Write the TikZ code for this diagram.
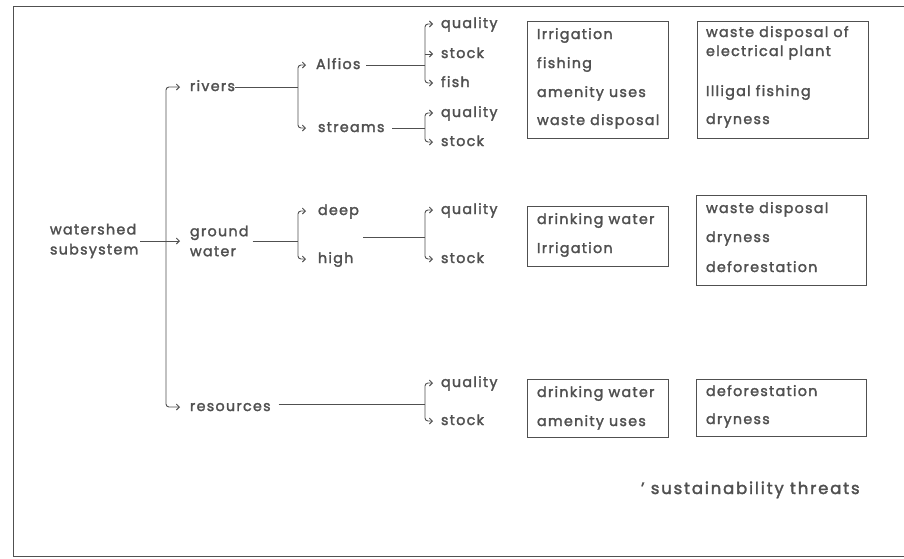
\documentclass[tikz,border=0pt]{standalone}
\usepackage{fontspec}
\setmainfont{Poppins}[LetterSpace=9, FakeBold=2]
\usetikzlibrary{arrows.meta}
\definecolor{ink}{HTML}{505050}
\begin{document}
\begin{tikzpicture}[x=1pt,y=-1pt,
  every node/.style={font=\fontsize{14.3}{20}\selectfont, text=ink},
  lbl/.style={anchor=west, inner xsep=0pt, inner ysep=0pt, outer sep=0pt, text height=8pt, text depth=0pt},
  mlbl/.style={anchor=west, inner xsep=0pt, inner ysep=0pt, outer sep=0pt, align=left},
  ln/.style={draw=ink, line width=0.9pt},
  tip/.style={-{Straight Barb[length=3pt,width=6pt]}},
  br/.style={ln, rounded corners=3pt, {Straight Barb[length=3pt,width=6pt]}-{Straight Barb[length=3pt,width=6pt]}},
  box/.style={draw=ink, line width=1pt, inner sep=0pt, anchor=north west}]
\path[use as bounding box] (0,0) rectangle (904,558);
% frame
\coordinate (fTL) at (13,6);
\coordinate (fTR) at (904,6);
\coordinate (fBL) at (13,556);
\coordinate (fBR) at (904,556);
\draw[ln] (fTR) -- (fTL) -- (fBL) -- (fBR);
% bus coordinates
\coordinate (b0) at (166,0);
\coordinate (b1) at (298,0);
\coordinate (b2) at (425,0);
% labels
\node[mlbl] (ws) at (50,241) {watershed\\subsystem};
\node[lbl] (riv) at (190,87) {rivers};
\node[mlbl] (gw) at (190,241) {ground\\water};
\node[lbl] (res) at (190,407) {resources};
\node[lbl] (alf) at (316,65) {Alfios};
\node[lbl] (str) at (318,128) {streams};
\node[lbl] (deep) at (318,211) {deep};
\node[lbl] (high) at (318,259) {high};
\node[lbl] (q1) at (441,24) {quality};
\node[lbl] (s1) at (441,54) {stock};
\node[lbl] (f1) at (441,83) {fish};
\node[lbl] (q2) at (441,113) {quality};
\node[lbl] (s2) at (441,142) {stock};
\node[lbl] (q3) at (441,210) {quality};
\node[lbl] (s3) at (441,259) {stock};
\node[lbl] (q4) at (441,383) {quality};
\node[lbl] (s4) at (441,421) {stock};
% level 0
\draw[ln] ([xshift=2pt]ws.east) -- (ws.east -| b0);
\draw[br] ([xshift=-10pt]riv.west) -- (riv.west -| b0) -- (res.west -| b0) -- ([xshift=-10pt]res.west);
\draw[ln,tip] (gw.west -| b0) -- ([xshift=-10pt]gw.west);
% level 1
\draw[ln] (riv.east) -- (riv.east -| b1);
\draw[br] ([xshift=-10pt]alf.west) -- (alf.west -| b1) -- (str.west -| b1) -- ([xshift=-12pt]str.west);
\draw[ln] ([xshift=4pt]gw.east) -- (gw.east -| b1);
\draw[br] ([xshift=-12pt]deep.west) -- (deep.west -| b1) -- (high.west -| b1) -- ([xshift=-12pt]high.west);
% level 2
\draw[ln] ([xshift=6pt]alf.east) -- (alf.east -| b2);
\draw[br] ([xshift=-8pt]q1.west) -- (q1.west -| b2) -- (f1.west -| b2) -- ([xshift=-8pt]f1.west);
\draw[ln,tip] (s1.west -| b2) -- ([xshift=-8pt]s1.west);
\draw[ln] ([xshift=8pt]str.east) -- (str.east -| b2);
\draw[br] ([xshift=-8pt]q2.west) -- (q2.west -| b2) -- (s2.west -| b2) -- ([xshift=-8pt]s2.west);
\coordinate (dh) at (363,237);
\draw[ln] (dh) -- (dh -| b2);
\draw[br] ([xshift=-8pt]q3.west) -- (q3.west -| b2) -- (s3.west -| b2) -- ([xshift=-8pt]s3.west);
\draw[ln] ([xshift=8pt,yshift=3pt]res.east) -- ([yshift=3pt]res.east -| b2);
\draw[br] ([xshift=-8pt]q4.west) -- (q4.west -| b2) -- (s4.west -| b2) -- ([xshift=-8pt]s4.west);
% boxes
\node[box, minimum width=141pt, minimum height=117pt] (A1) at (527,21) {};
\node[box, minimum width=171pt, minimum height=117pt] (A2) at (697,21) {};
\node[box, minimum width=141pt, minimum height=60pt] (B1) at (527,206) {};
\node[box, minimum width=170pt, minimum height=90pt] (B2) at (696,195) {};
\node[box, minimum width=141pt, minimum height=58pt] (C1) at (527,379) {};
\node[box, minimum width=170pt, minimum height=57pt] (C2) at (696,379) {};
% box texts
\node[lbl] (a11) at (537,35) {Irrigation};
\node[lbl] (a12) at (537,64) {fishing};
\node[lbl] (a13) at (537,93) {amenity uses};
\node[lbl] (a14) at (537,121) {waste disposal};
\node[lbl] (a21) at (706,33) {waste disposal of};
\node[lbl] (a22) at (706,52) {electrical plant};
\node[lbl] (a23) at (706,92) {Illigal fishing};
\node[lbl] (a24) at (706,120) {dryness};
\node[lbl] (b11) at (537,220) {drinking water};
\node[lbl] (b12) at (537,249) {Irrigation};
\node[lbl] (b21) at (706,209) {waste disposal};
\node[lbl] (b22) at (706,238) {dryness};
\node[lbl] (b23) at (706,268) {deforestation};
\node[lbl] (c11) at (537,393) {drinking water};
\node[lbl] (c12) at (537,422) {amenity uses};
\node[lbl] (c21) at (706,392) {deforestation};
\node[lbl] (c22) at (706,420) {dryness};
\node[lbl, font=\fontsize{16.5}{18}\selectfont\addfontfeatures{LetterSpace=11}] (leg) at (641,490) {' sustainability threats};
\end{tikzpicture}
\end{document}
